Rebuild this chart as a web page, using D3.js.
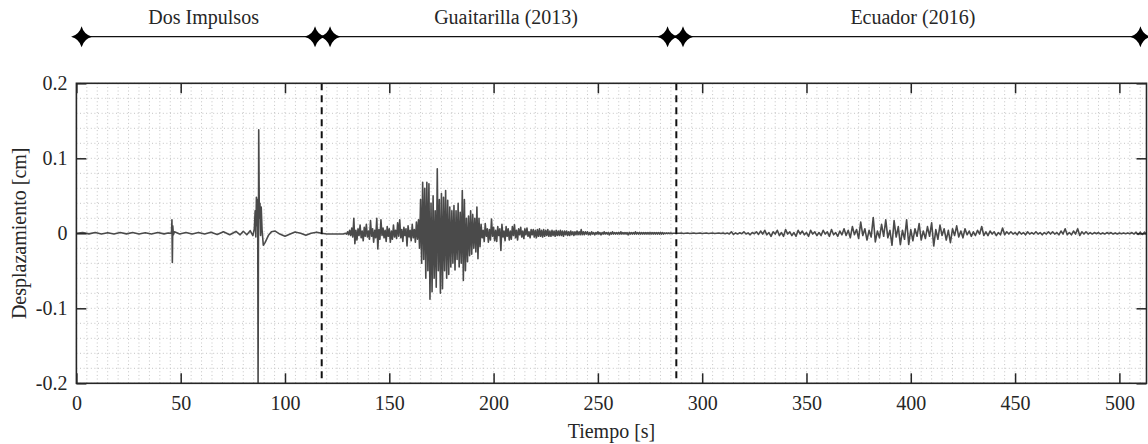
<!DOCTYPE html>
<html>
<head>
<meta charset="utf-8">
<script src="https://cdn.jsdelivr.net/npm/d3@7"></script>
</head>
<body style="margin:0;background:#fff">
<div id="chart-area"></div>
<script>
// ---- DATA ----

// Dos Impulsos: [time s, displacement cm]
const dosImpulsos = [
  [0, 0], [3, .001], [6, -.0008], [9, .001], [12, -.001], [15, .0008], [18, -.001], [21, .001],
  [24, -.0008], [27, .001], [30, -.001], [33, .0008], [36, -.001], [39, .001], [42, -.0008],
  [44, .0005], [45.6, 0], [45.8, .018], [46.0, -.039], [46.2, .01], [46.5, -.002], [47, .002],
  [49.5, -.001], [52.5, .001], [55.5, -.001], [58.5, .0012], [61.5, -.001], [64.5, .0015],
  [67.5, -.0015], [70.5, .002], [73.5, -.002], [76.5, .0025], [78.5, -.002], [80, .0027],
  [81.7, -.002], [83.3, .0035], [84.6, -.003], [85.3, .006], [85.7, .03], [86.0, -.005],
  [86.3, .048], [86.6, .01], [86.9, .045], [87.1, -.205], [87.4, .138], [87.7, .02], [88.0, .04],
  [88.3, -.003], [88.6, .035], [89.0, .005], [89.6, -.016], [90.5, -.012], [92, -.003], [93.5, .002],
  [95.3, .003], [97.5, -.001], [100, -.004], [102.5, -.001], [104.8, .0017], [107.5, 0],
  [110, -.0027], [112.5, 0], [115.2, .0015], [117.5, 0], [120, -.001], [124, -.001], [128, -.001]
];

// Guaitarilla (2013): starts at 129 s, one value every 0.5 s
const guaitarillaStart = 129, guaitarillaStep = 0.5;
const guaitarilla = [
  0, -.001, .002, -.002, .004, -.003, .007, -.005, .02, -.014, .004, -.009, .006, -.003, .011, -.006, .003, -.01, .008, -.004,
  .012, -.005, .003, -.008, .017, -.004, .006, -.012, .004, -.006, .02, -.021, .005, -.008, .018, -.003, .007, -.006, .004, -.011,
  .009, -.004, .006, -.012, .003, -.008, .011, -.005, .004, -.007, .014, -.004, .018, -.006, .005, -.011, .008, -.003, .006, -.017,
  .01, -.005, .004, -.01, .012, -.006, .005, -.012, .015, -.008, .018, -.02, .045, -.04, .068, -.035, .06, -.06, .068, -.05,
  .066, -.088, .04, -.078, .05, -.06, .03, -.072, .086, -.05, .045, -.08, .053, -.074, .048, -.05, .057, -.06, .044, -.055,
  .035, -.045, .03, -.04, .037, -.049, .03, -.035, .04, -.045, .028, -.04, .057, -.063, .045, -.05, .02, -.038, .023, -.03,
  .03, -.028, .025, -.02, .02, -.025, .035, -.034, .02, -.018, .012, -.006, .004, -.011, .013, -.004, .006, -.012, .005, -.009,
  .019, -.004, .008, -.01, .004, -.011, .009, -.003, .006, -.023, .012, -.005, .003, -.01, .009, -.004, .006, -.009, .003, -.008,
  .009, -.003, .0115, -.006, .004, -.009, .006, -.002, .008, -.005, .003, -.007, .006, -.002, .007, -.004, .002, -.006, .005, -.002,
  .005, -.005, .004, -.006, .005, -.004, .006, -.004, .004, -.005, .005, -.004, .004, -.003, .005, -.004, .003, -.004, .004, -.003,
  .003, -.004, .004, -.003, .003, -.003, .004, -.003, .003, -.004, .003, -.002, .003, -.003, .002, -.003, .003, -.002, .002, -.003,
  .002, -.002, .003, -.002, .002, -.002, .005, -.002, .002, -.002, .002, -.001, .002, -.002, .001, -.002, .002, -.001, .001, -.002,
  .001, -.001, .002, -.001, .001, -.002, .001, -.001, .002, -.001, .001, -.001, .001, -.002, .001, -.001, .002, -.001, .001, -.001,
  .001, -.001, .001, -.001, .002, -.001, .001, -.001, .001, -.001, .001, -.002, .001, -.001, .001, -.001, .001, -.001, .002, -.001,
  .001, -.001, .001, -.001, .001, -.001, .001, -.001, .001, -.001, .001, -.001, .001, -.001, .001, -.001, .001, -.001, .001, -.001,
  .001, -.001, .001, -.001, .001, -.001, .0005, -.0005, .0005, -.0005, .0005, -.0005, .0005, -.0005, 0, 0, 0, 0
];

// Ecuador (2016): starts at 288 s, one value every 1 s
const ecuadorStart = 288, ecuadorStep = 1;
const ecuador = [
  0, 0, .0003, -.0003, 0, .0003, -.0003, 0, .0003, -.0003,
  0, .0003, -.0003, 0, .0003, -.0003, 0, .0003, -.0003, 0,
  .0003, -.0003, .0005, -.0005, .0003, -.0008, .002, -.0015, .0005, -.001,
  .0008, -.0005, .002, -.001, .0005, -.002, .001, -.0005, .002, -.0015,
  .003, -.001, .004, -.002, .001, -.004, .002, -.001, .004, -.003,
  .001, -.004, .005, -.001, .002, -.003, .001, -.004, .004, -.001,
  .003, -.002, .001, -.004, .004, -.001, .002, -.003, .001, -.003,
  .004, -.001, .002, -.004, .005, -.002, .001, -.004, .003, -.002,
  .006, -.003, .004, -.006, .009, -.002, .005, -.007, .015, -.003,
  .006, -.009, .004, -.005, .021, -.0115, .003, -.006, .012, -.004,
  .018, -.006, .004, -.016, .017, -.005, .009, -.015, .004, -.008,
  .018, -.015, .005, -.01, .006, -.004, .013, -.009, .003, -.007,
  .009, -.004, .014, -.017, .005, -.008, .011, -.003, .006, -.009,
  .004, -.0125, .006, -.003, .01, -.005, .003, -.006, .006, -.002,
  .003, -.004, .002, -.003, .004, -.001, .009, -.003, .002, -.003,
  .003, -.001, .002, -.003, .001, -.002, .007, -.002, .002, -.001,
  .002, -.001, .001, -.002, .002, -.001, .001, -.002, .002, -.001,
  .001, -.001, .002, -.001, .001, -.002, .001, -.001, .002, -.001,
  .002, -.001, .001, -.002, .003, -.001, .006, -.002, .001, -.002,
  .003, -.001, .006, -.003, .002, -.001, .002, -.001, .001, -.001,
  .001, -.0005, .001, -.001, .0005, -.001, .001, -.0005, .001, -.001,
  .0005, -.001, .0005, -.0005, .0005, -.0005, .0005, -.0005, .001, -.001,
  .0015, -.0015, .0015, -.0015, .0015, -.001
];

// record boundaries (dashed lines), s
const boundaries = [117.6, 287.6];

// section labels and arrow spans along the top, s
const sectionNames = ["Dos Impulsos", "Guaitarilla (2013)", "Ecuador (2016)"];
const sectionFrom = [2.5, 121.6, 290.8];
const sectionTo = [114.4, 283.4, 510.1];
const sectionLabelAt = [61, 206, 401];

const xTicks = [0, 50, 100, 150, 200, 250, 300, 350, 400, 450, 500];
const yTicks = [-0.2, -0.1, 0, 0.1, 0.2];
const yTickLabels = ["-0.2", "-0.1", "0", "0.1", "0.2"];

const FONT = "'Liberation Serif', serif";

// ---- CHART AREA ----
let margin = { top: 83.3, right: 1.5, bottom: 60.7, left: 76.4 },
  width = 1148 - margin.left - margin.right,
  height = 444 - margin.top - margin.bottom;

let root = d3.select("#chart-area")
  .append("svg")
  .attr("width", 1148)
  .attr("height", 444)
  .style("display", "block")
  .style("background", "#fff");

let svg = root.append("g")
  .attr("transform", "translate(" + margin.left + "," + margin.top + ")");

let x = d3.scaleLinear().domain([0, 513]).range([0, width]);
let y = d3.scaleLinear().domain([-0.2, 0.2]).range([height, 0]);

// ---- GRID (dotted, major + minor) ----
let grid = svg.append("g").attr("class", "grid");
let minorX = d3.range(0, 513, 5), minorY = d3.range(-20, 21, 2).map(d => d / 100);

grid.selectAll("line.gx").data(minorX).enter().append("line")
  .attr("x1", d => x(d)).attr("x2", d => x(d))
  .attr("y1", 0).attr("y2", height)
  .attr("stroke", "#c4c4c4").attr("stroke-width", 1)
  .attr("stroke-dasharray", "1,2.6");

grid.selectAll("line.gy").data(minorY).enter().append("line")
  .attr("x1", 0).attr("x2", width)
  .attr("y1", d => y(d)).attr("y2", d => y(d))
  .attr("stroke", "#c4c4c4").attr("stroke-width", 1)
  .attr("stroke-dasharray", "1,2.6");

// ---- SIGNAL ----
let points = dosImpulsos.map(d => ({ t: d[0], v: d[1] }))
  .concat(guaitarilla.map((v, i) => ({ t: guaitarillaStart + i * guaitarillaStep, v: v })))
  .concat(ecuador.map((v, i) => ({ t: ecuadorStart + i * ecuadorStep, v: v })));

svg.append("clipPath").attr("id", "plot-clip")
  .append("rect").attr("width", width).attr("height", height);

let line = d3.line().x(d => x(d.t)).y(d => y(d.v));

svg.append("path")
  .datum(points)
  .attr("clip-path", "url(#plot-clip)")
  .attr("fill", "none")
  .attr("stroke", "#4a4a4a")
  .attr("stroke-width", 1.6)
  .attr("stroke-linejoin", "round")
  .attr("d", line);

// ---- BOUNDARIES ----
svg.selectAll("line.boundary").data(boundaries).enter().append("line")
  .attr("class", "boundary")
  .attr("x1", d => x(d)).attr("x2", d => x(d))
  .attr("y1", 0).attr("y2", height)
  .attr("stroke", "#111").attr("stroke-width", 2)
  .attr("stroke-dasharray", "7,5");

// ---- AXES ----
function styleAxis(g) {
  g.select(".domain").remove();
  g.selectAll(".tick line").attr("stroke", "#262626").attr("stroke-width", 1.5);
}

svg.append("g")
  .attr("transform", "translate(0," + height + ")")
  .call(d3.axisBottom(x).tickValues(xTicks).tickSizeInner(-10).tickSizeOuter(0).tickPadding(13).tickFormat(d3.format("d")))
  .call(styleAxis);

svg.append("g")
  .call(d3.axisTop(x).tickValues(xTicks).tickSizeInner(-10).tickSizeOuter(0).tickFormat(""))
  .call(styleAxis);

svg.append("g")
  .call(d3.axisLeft(y).tickValues(yTicks).tickSizeInner(-10).tickSizeOuter(0).tickPadding(9)
    .tickFormat((d, i) => yTickLabels[i]))
  .call(styleAxis);

svg.append("g")
  .attr("transform", "translate(" + width + ",0)")
  .call(d3.axisRight(y).tickValues(yTicks).tickSizeInner(-10).tickSizeOuter(0).tickFormat(""))
  .call(styleAxis);

svg.append("rect")
  .attr("width", width).attr("height", height)
  .attr("fill", "none").attr("stroke", "#262626").attr("stroke-width", 1.6);

// axis titles
svg.append("text")
  .attr("x", width / 2).attr("y", height + 55)
  .attr("text-anchor", "middle")
  .text("Tiempo [s]");

svg.append("text")
  .attr("transform", "rotate(-90)")
  .attr("x", -height / 2).attr("y", -50.5)
  .attr("text-anchor", "middle")
  .text("Desplazamiento [cm]");

// ---- SECTION ARROWS ----
let sectionG = root.append("g").attr("transform", "translate(" + margin.left + ",0)");
let arrowY = 36.7;
let star = "M0,-10.5 Q2.2,-2.2 10.5,0 Q2.2,2.2 0,10.5 Q-2.2,2.2 -10.5,0 Q-2.2,-2.2 0,-10.5Z";

sectionNames.forEach(function(name, i) {
  sectionG.append("line")
    .attr("x1", x(sectionFrom[i])).attr("x2", x(sectionTo[i]))
    .attr("y1", arrowY).attr("y2", arrowY)
    .attr("stroke", "#111").attr("stroke-width", 1.2);
  [sectionFrom[i], sectionTo[i]].forEach(function(t) {
    sectionG.append("path")
      .attr("d", star)
      .attr("transform", "translate(" + x(t) + "," + arrowY + ")")
      .attr("fill", "#000");
  });
  sectionG.append("text")
    .attr("x", x(sectionLabelAt[i])).attr("y", 24)
    .attr("text-anchor", "middle")
    .text(name);
});

// all text: Times-like serif, 20px
root.selectAll("text")
  .style("font-family", FONT)
  .style("font-size", "20px")
  .style("fill", "#262626");
</script>
</body>
</html>
